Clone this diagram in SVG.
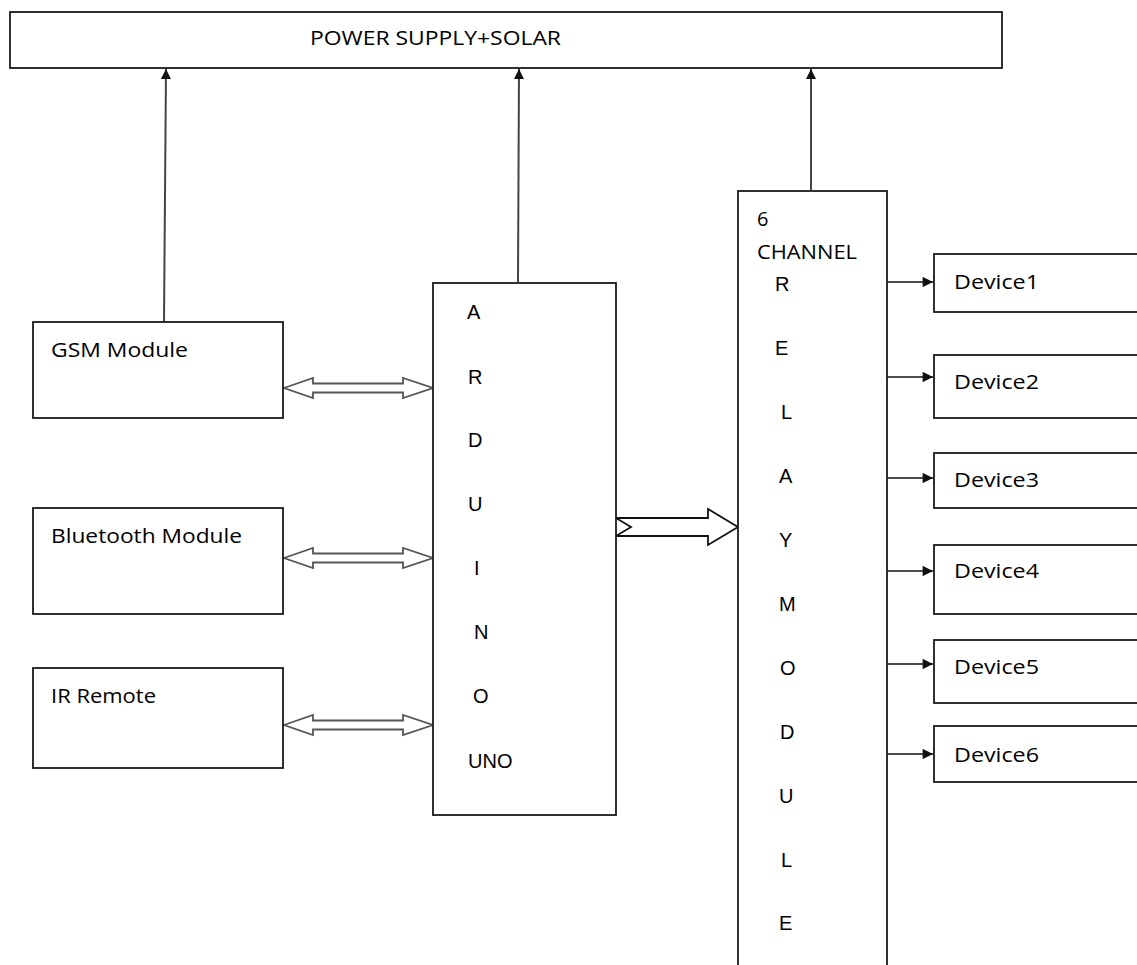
<svg xmlns="http://www.w3.org/2000/svg" width="1137" height="965" viewBox="0 0 1137 965">
<style>
.box{fill:#fff;stroke:#1a1a1a;stroke-width:1.8}
.lbl{font-family:"Open Sans","Noto Sans",sans-serif;font-size:20px;fill:#000}
.ltr{font-family:"Liberation Sans",Arial,sans-serif;font-size:20px;fill:#000}
.up{stroke:#444;stroke-width:2;fill:none;marker-end:url(#ah)}
.dev{stroke:#111;stroke-width:1.6;fill:none;marker-end:url(#ah2)}
.dbl{fill:#fff;stroke:#555;stroke-width:1.8;stroke-linejoin:miter}
.big{fill:#fff;stroke:#111;stroke-width:1.8}
</style>
<defs>
<marker id="ah" viewBox="0 0 10 10" refX="10" refY="5" markerWidth="6" markerHeight="5" markerUnits="strokeWidth" orient="auto">
<path d="M0,0 L10,5 L0,10 Z" fill="#111"/>
</marker>
<marker id="ah2" viewBox="0 0 10 10" refX="10" refY="5" markerWidth="7" markerHeight="6.5" markerUnits="strokeWidth" orient="auto">
<path d="M0,0 L10,5 L0,10 Z" fill="#111"/>
</marker>
</defs>
<rect width="1137" height="965" fill="#fff"/>

<g id="connectors">
<line class="up" x1="164" y1="322" x2="166" y2="69"/>
<line class="up" x1="518" y1="282" x2="519" y2="69"/>
<line class="up" x1="811" y1="190" x2="811" y2="69"/>
<polygon class="dbl" points="284,388 313,378 313,383.5 403,383.5 403,378 433,388 403,398 403,392.5 313,392.5 313,398"/>
<polygon class="dbl" points="284,558 313,548 313,553.5 403,553.5 403,548 433,558 403,568 403,562.5 313,562.5 313,568"/>
<polygon class="dbl" points="284,725 313,715 313,720.5 403,720.5 403,715 433,725 403,735 403,729.5 313,729.5 313,735"/>
<polygon class="big" points="616,518 708,518 708,509 738,527 708,545 708,536 616,536 631,527"/>
<line class="dev" x1="886" y1="282" x2="933" y2="282"/>
<line class="dev" x1="886" y1="377" x2="933" y2="377"/>
<line class="dev" x1="886" y1="478" x2="933" y2="478"/>
<line class="dev" x1="886" y1="571" x2="933" y2="571"/>
<line class="dev" x1="886" y1="664" x2="933" y2="664"/>
<line class="dev" x1="886" y1="754" x2="933" y2="754"/>
</g>

<g id="power">
<rect class="box" x="10" y="12" width="992" height="56"/>
<text class="lbl" x="310" y="45" textLength="251" lengthAdjust="spacingAndGlyphs">POWER SUPPLY+SOLAR</text>
</g>

<g id="gsm">
<rect class="box" x="33" y="322" width="250" height="96"/>
<text class="lbl" x="51" y="357" textLength="137" lengthAdjust="spacingAndGlyphs">GSM Module</text>
</g>

<g id="bluetooth">
<rect class="box" x="33" y="508" width="250" height="106"/>
<text class="lbl" x="51" y="543" textLength="191" lengthAdjust="spacingAndGlyphs">Bluetooth Module</text>
</g>

<g id="ir">
<rect class="box" x="33" y="668" width="250" height="100"/>
<text class="lbl" x="51" y="703" textLength="105" lengthAdjust="spacingAndGlyphs">IR Remote</text>
</g>

<g id="arduino">
<rect class="box" x="433" y="283" width="183" height="532"/>
<text class="ltr" x="467" y="319">A</text>
<text class="ltr" x="468" y="384">R</text>
<text class="ltr" x="468" y="447">D</text>
<text class="ltr" x="468" y="511">U</text>
<text class="ltr" x="474" y="575">I</text>
<text class="ltr" x="474" y="639">N</text>
<text class="ltr" x="473" y="703">O</text>
<text class="ltr" x="468" y="768">UNO</text>
</g>

<g id="relay">
<rect class="box" x="738" y="191" width="149" height="790"/>
<text class="lbl" x="757" y="226">6</text>
<text class="lbl" x="757" y="259" textLength="100" lengthAdjust="spacingAndGlyphs">CHANNEL</text>
<text class="ltr" x="775" y="291">R</text>
<text class="ltr" x="775" y="355">E</text>
<text class="ltr" x="781" y="419">L</text>
<text class="ltr" x="779" y="483">A</text>
<text class="ltr" x="779" y="547">Y</text>
<text class="ltr" x="779" y="611">M</text>
<text class="ltr" x="780" y="675">O</text>
<text class="ltr" x="780" y="739">D</text>
<text class="ltr" x="779" y="803">U</text>
<text class="ltr" x="781" y="867">L</text>
<text class="ltr" x="779" y="930">E</text>
</g>

<g id="device1">
<rect class="box" x="934" y="254" width="220" height="58"/>
<text class="lbl" x="954" y="289" textLength="85" lengthAdjust="spacingAndGlyphs">Device1</text>
</g>
<g id="device2">
<rect class="box" x="934" y="355" width="220" height="63"/>
<text class="lbl" x="954" y="389" textLength="85" lengthAdjust="spacingAndGlyphs">Device2</text>
</g>
<g id="device3">
<rect class="box" x="934" y="453" width="220" height="55"/>
<text class="lbl" x="954" y="487" textLength="85" lengthAdjust="spacingAndGlyphs">Device3</text>
</g>
<g id="device4">
<rect class="box" x="934" y="545" width="220" height="69"/>
<text class="lbl" x="954" y="578" textLength="85" lengthAdjust="spacingAndGlyphs">Device4</text>
</g>
<g id="device5">
<rect class="box" x="934" y="640" width="220" height="63"/>
<text class="lbl" x="954" y="674" textLength="85" lengthAdjust="spacingAndGlyphs">Device5</text>
</g>
<g id="device6">
<rect class="box" x="934" y="726" width="220" height="56"/>
<text class="lbl" x="954" y="762" textLength="85" lengthAdjust="spacingAndGlyphs">Device6</text>
</g>
</svg>
